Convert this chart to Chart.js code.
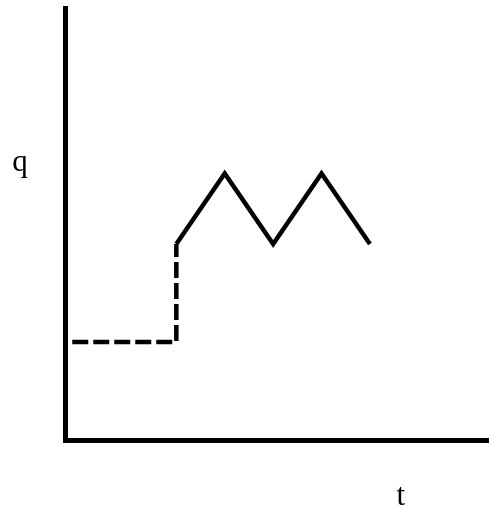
<!DOCTYPE html>
<html>
<head>
<meta charset="utf-8">
<script src="https://cdn.jsdelivr.net/npm/chart.js@4"></script>
<style>
  html, body { margin: 0; padding: 0; background: #fff; }
  #wrap { width: 489px; height: 510px; }
</style>
</head>
<body>
<div id="wrap"><canvas id="chart"></canvas></div>
<script>
// step input (dashed) then periodic response (solid)
let inputT = [0.15, 2.3, 2.3];
let inputQ = [1, 1, 2];
let respT = [2.3, 3.3, 4.3, 5.3, 6.3];
let respQ = [2, 2.72, 2, 2.72, 2];

let xMax = 8.76, yMax = 4.41;
let axisLabels = [
  { text: "q", t: -0.93, q: 2.75 },
  { text: "t", t: 6.94, q: -0.663 }
];

function toPoints(xs, ys) {
  return xs.map(function(x, i) { return { x: x, y: ys[i] }; });
}

let labelPlugin = {
  id: "axisLabels",
  afterDraw: function(chart) {
    let ctx = chart.ctx;
    let xs = chart.scales.x, ys = chart.scales.y;
    ctx.save();
    ctx.fillStyle = "#000";
    ctx.font = "31px 'Liberation Serif'";
    ctx.textAlign = "center";
    ctx.textBaseline = "alphabetic";
    axisLabels.forEach(function(l) {
      ctx.fillText(l.text, xs.getPixelForValue(l.t), ys.getPixelForValue(l.q));
    });
    ctx.restore();
  }
};

function noSize(scale) {
  if (scale.isHorizontal()) scale.height = 0; else scale.width = 0;
}

new Chart(document.getElementById("chart"), {
  type: "line",
  data: {
    datasets: [{
      data: toPoints(inputT, inputQ),
      borderColor: "#000",
      borderWidth: 4.5,
      borderDash: [16, 5],
      pointRadius: 0,
      fill: false
    }, {
      data: toPoints(respT, respQ),
      borderColor: "#000",
      borderWidth: 4.5,
      borderJoinStyle: "miter",
      pointRadius: 0,
      fill: false
    }]
  },
  options: {
    responsive: true,
    maintainAspectRatio: false,
    animation: false,
    layout: { padding: { left: 65, top: 8, right: 0, bottom: 70 } },
    plugins: { legend: { display: false }, tooltip: { enabled: false } },
    scales: {
      x: {
        type: "linear", min: 0, max: xMax,
        ticks: { display: false },
        grid: { display: false },
        border: { display: true, color: "#000", width: 5 },
        afterFit: noSize
      },
      y: {
        type: "linear", min: 0, max: yMax,
        ticks: { display: false },
        grid: { display: false },
        border: { display: true, color: "#000", width: 5 },
        afterFit: noSize
      }
    }
  },
  plugins: [labelPlugin]
});
</script>
</body>
</html>
